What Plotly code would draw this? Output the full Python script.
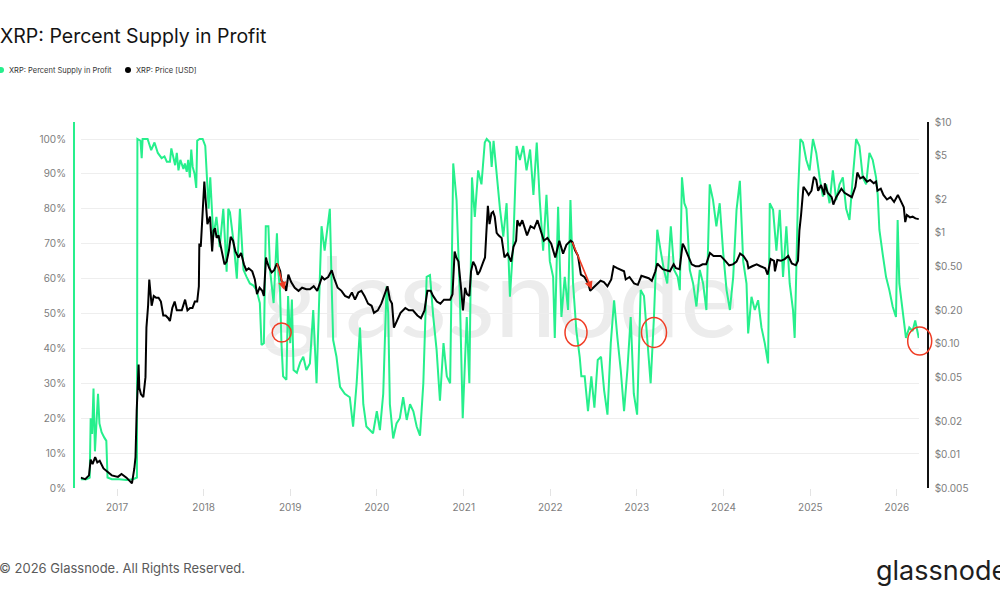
import plotly.graph_objects as go

# ---------------- data ----------------
supply_in_profit = [
    ("2016-08-01", 2.5), ("2016-08-25", 2.5), ("2016-09-08", 3.0), ("2016-09-12", 20.0), ("2016-09-18", 15.5),
    ("2016-09-24", 28.5), ("2016-09-30", 10.5), ("2016-10-05", 18.0), ("2016-10-13", 27.0), ("2016-10-19", 18.5),
    ("2016-10-28", 16.0), ("2016-11-08", 14.5), ("2016-11-17", 13.5), ("2016-11-22", 3.0), ("2016-12-10", 2.5),
    ("2017-01-10", 2.5), ("2017-02-10", 2.3), ("2017-03-10", 2.5), ("2017-03-26", 3.0), ("2017-03-28", 100),
    ("2017-04-10", 99.5), ("2017-04-15", 94.5), ("2017-04-19", 100), ("2017-05-10", 100), ("2017-05-25", 96.8),
    ("2017-06-08", 99), ("2017-06-22", 96), ("2017-07-08", 94.5), ("2017-07-20", 95), ("2017-07-30", 93.5),
    ("2017-08-12", 93.5), ("2017-08-18", 97.3), ("2017-08-25", 95), ("2017-09-03", 92.5), ("2017-09-10", 96),
    ("2017-09-17", 91), ("2017-09-25", 94), ("2017-10-08", 91.4), ("2017-10-14", 93), ("2017-10-22", 90.6),
    ("2017-10-28", 94), ("2017-11-04", 89), ("2017-11-10", 97), ("2017-11-16", 92), ("2017-11-24", 90),
    ("2017-12-01", 86), ("2017-12-05", 99.5), ("2017-12-15", 100), ("2017-12-28", 100), ("2018-01-08", 98),
    ("2018-01-15", 89), ("2018-01-22", 80), ("2018-01-29", 89), ("2018-02-11", 72), ("2018-02-24", 77.7),
    ("2018-03-10", 69), ("2018-03-25", 80), ("2018-04-08", 62), ("2018-04-15", 80), ("2018-04-22", 79),
    ("2018-05-08", 70), ("2018-05-21", 60), ("2018-06-03", 80), ("2018-06-18", 62.5), ("2018-07-01", 60.5),
    ("2018-07-15", 58.6), ("2018-07-30", 58), ("2018-08-12", 56.7), ("2018-08-26", 53), ("2018-09-02", 41),
    ("2018-09-12", 41.5), ("2018-09-20", 75), ("2018-10-01", 75), ("2018-10-08", 62.5), ("2018-10-23", 53),
    ("2018-11-06", 73), ("2018-11-12", 62), ("2018-11-19", 56.7), ("2018-11-25", 41.5), ("2018-12-02", 32),
    ("2018-12-16", 31), ("2018-12-23", 55), ("2019-01-01", 41.5), ("2019-01-08", 54), ("2019-01-15", 33.8),
    ("2019-01-29", 33), ("2019-02-12", 36), ("2019-02-25", 37.6), ("2019-03-10", 33.8), ("2019-03-25", 35.7),
    ("2019-04-08", 51), ("2019-04-22", 30), ("2019-05-06", 60.5), ("2019-05-13", 75), ("2019-05-26", 68),
    ("2019-06-05", 74), ("2019-06-17", 80), ("2019-06-24", 60), ("2019-07-01", 42.4), ("2019-07-15", 37.6),
    ("2019-07-30", 29), ("2019-08-19", 27), ("2019-09-09", 26), ("2019-09-23", 17.6), ("2019-10-08", 30),
    ("2019-10-22", 46), ("2019-11-05", 24), ("2019-11-18", 17.6), ("2019-12-02", 16.6), ("2019-12-16", 15.7),
    ("2020-01-01", 22), ("2020-01-14", 16.6), ("2020-01-28", 27), ("2020-02-11", 57.7), ("2020-02-18", 50),
    ("2020-02-25", 24), ("2020-03-10", 14.2), ("2020-03-24", 18.5), ("2020-04-07", 20), ("2020-04-21", 26),
    ("2020-05-06", 19.5), ("2020-05-20", 24), ("2020-06-03", 22), ("2020-06-17", 17.6), ("2020-07-01", 15),
    ("2020-07-15", 30), ("2020-07-29", 60.5), ("2020-08-12", 61), ("2020-08-26", 49), ("2020-09-09", 39.5),
    ("2020-09-23", 25), ("2020-10-08", 41.5), ("2020-10-22", 32), ("2020-11-05", 30), ("2020-11-18", 93),
    ("2020-12-02", 82.5), ("2020-12-16", 54.8), ("2020-12-28", 20), ("2021-01-14", 49), ("2021-01-25", 30),
    ("2021-02-05", 89), ("2021-02-17", 77.7), ("2021-03-03", 91), ("2021-03-17", 87), ("2021-03-31", 99),
    ("2021-04-08", 100), ("2021-04-22", 99), ("2021-04-29", 92), ("2021-05-07", 99.5), ("2021-05-20", 89),
    ("2021-06-03", 80), ("2021-06-17", 72), ("2021-07-01", 81.6), ("2021-07-15", 54.8), ("2021-07-29", 70),
    ("2021-08-12", 98), ("2021-08-26", 94), ("2021-09-09", 98), ("2021-09-23", 91), ("2021-10-08", 97),
    ("2021-10-22", 84), ("2021-11-05", 99), ("2021-11-18", 82), ("2021-12-02", 68), ("2021-12-16", 84),
    ("2021-12-30", 65), ("2022-01-13", 60.5), ("2022-01-20", 43), ("2022-02-03", 80.6), ("2022-02-17", 49),
    ("2022-03-03", 60.5), ("2022-03-17", 51), ("2022-03-27", 82.5), ("2022-04-07", 58.6), ("2022-04-21", 45),
    ("2022-05-05", 37.6), ("2022-05-12", 32), ("2022-05-26", 32), ("2022-06-09", 22), ("2022-06-23", 32),
    ("2022-07-06", 23), ("2022-07-20", 36.7), ("2022-08-03", 37.6), ("2022-08-16", 28), ("2022-08-30", 21),
    ("2022-09-13", 41.5), ("2022-09-27", 53.8), ("2022-10-11", 43), ("2022-10-25", 33.8), ("2022-11-08", 22),
    ("2022-11-22", 33.8), ("2022-12-06", 49), ("2022-12-19", 27), ("2023-01-02", 21), ("2023-01-17", 56.7),
    ("2023-01-31", 55), ("2023-02-14", 41.5), ("2023-02-28", 30), ("2023-03-14", 49), ("2023-03-28", 74),
    ("2023-04-11", 68), ("2023-04-25", 62.5), ("2023-05-09", 58.6), ("2023-05-24", 75), ("2023-06-07", 62.5),
    ("2023-06-22", 60.5), ("2023-07-01", 56.7), ("2023-07-10", 89), ("2023-07-20", 81.6), ("2023-07-29", 80),
    ("2023-08-12", 62.5), ("2023-08-26", 58.6), ("2023-09-09", 52), ("2023-09-23", 62.5), ("2023-10-07", 58.6),
    ("2023-10-21", 51), ("2023-11-04", 87), ("2023-11-18", 82.5), ("2023-12-02", 75), ("2023-12-16", 81.6),
    ("2023-12-30", 68), ("2024-01-14", 56.7), ("2024-01-28", 51), ("2024-02-11", 60.5), ("2024-02-25", 79.7),
    ("2024-03-10", 88), ("2024-03-24", 65), ("2024-04-07", 58.6), ("2024-04-14", 44.3), ("2024-04-28", 54.8),
    ("2024-05-12", 51), ("2024-05-26", 53.8), ("2024-06-09", 46), ("2024-06-23", 41.5), ("2024-07-07", 35.7),
    ("2024-07-14", 81.6), ("2024-07-28", 79.7), ("2024-08-11", 68), ("2024-08-25", 79.7), ("2024-09-08", 60.5),
    ("2024-09-22", 75), ("2024-10-06", 58.6), ("2024-10-20", 51), ("2024-10-27", 43), ("2024-11-03", 62.5),
    ("2024-11-10", 84), ("2024-11-20", 100), ("2024-12-01", 99), ("2024-12-15", 94), ("2024-12-29", 91),
    ("2025-01-12", 100), ("2025-01-26", 96), ("2025-02-09", 89), ("2025-02-23", 83.5), ("2025-03-09", 87),
    ("2025-03-23", 81.6), ("2025-04-06", 91), ("2025-04-20", 82.5), ("2025-05-04", 87), ("2025-05-18", 89),
    ("2025-06-01", 80), ("2025-06-15", 76.8), ("2025-06-29", 89), ("2025-07-13", 100), ("2025-07-27", 98),
    ("2025-08-10", 89), ("2025-08-24", 87), ("2025-09-07", 96), ("2025-09-21", 94), ("2025-10-05", 89),
    ("2025-10-12", 84), ("2025-10-19", 74), ("2025-11-02", 67), ("2025-11-16", 60.5), ("2025-11-30", 56.7),
    ("2025-12-14", 52), ("2025-12-28", 49), ("2026-01-04", 76.8), ("2026-01-11", 58.6), ("2026-01-25", 51),
    ("2026-02-08", 43), ("2026-02-22", 46), ("2026-03-08", 45), ("2026-03-19", 48), ("2026-04-03", 43),
]

price_usd = [
    ("2016-08-01", 0.0062), ("2016-08-20", 0.0060), ("2016-09-05", 0.0065), ("2016-09-12", 0.0090), ("2016-09-20", 0.0082),
    ("2016-10-01", 0.0095), ("2016-10-10", 0.0085), ("2016-10-20", 0.0088), ("2016-11-05", 0.0075), ("2016-11-20", 0.0070),
    ("2016-12-10", 0.0065), ("2017-01-05", 0.0063), ("2017-01-20", 0.0067), ("2017-02-10", 0.0062), ("2017-02-25", 0.0058),
    ("2017-03-05", 0.0055), ("2017-03-15", 0.0075), ("2017-03-20", 0.0095), ("2017-03-25", 0.025), ("2017-04-02", 0.065),
    ("2017-04-05", 0.040), ("2017-04-12", 0.035), ("2017-04-22", 0.033), ("2017-05-01", 0.050), ("2017-05-05", 0.14),
    ("2017-05-12", 0.22), ("2017-05-17", 0.38), ("2017-05-22", 0.30), ("2017-05-27", 0.22), ("2017-06-05", 0.27),
    ("2017-06-15", 0.26), ("2017-06-25", 0.26), ("2017-07-05", 0.24), ("2017-07-15", 0.18), ("2017-07-25", 0.18),
    ("2017-08-05", 0.17), ("2017-08-12", 0.16), ("2017-08-22", 0.21), ("2017-09-01", 0.24), ("2017-09-10", 0.20),
    ("2017-09-20", 0.20), ("2017-10-01", 0.20), ("2017-10-15", 0.25), ("2017-10-25", 0.20), ("2017-11-05", 0.21),
    ("2017-11-15", 0.21), ("2017-11-25", 0.24), ("2017-12-05", 0.24), ("2017-12-12", 0.33), ("2017-12-14", 0.80),
    ("2017-12-20", 0.75), ("2017-12-28", 1.40), ("2018-01-04", 2.9), ("2018-01-08", 2.2), ("2018-01-12", 1.8),
    ("2018-01-17", 1.2), ("2018-01-28", 1.4), ("2018-02-06", 0.68), ("2018-02-12", 1.05), ("2018-02-18", 1.1),
    ("2018-02-25", 0.90), ("2018-03-05", 0.95), ("2018-03-12", 0.80), ("2018-03-20", 0.68), ("2018-03-30", 0.52),
    ("2018-04-08", 0.55), ("2018-04-18", 0.70), ("2018-04-25", 0.92), ("2018-05-05", 0.85), ("2018-05-15", 0.68),
    ("2018-05-28", 0.60), ("2018-06-08", 0.66), ("2018-06-20", 0.52), ("2018-06-30", 0.46), ("2018-07-10", 0.48),
    ("2018-07-25", 0.45), ("2018-08-05", 0.38), ("2018-08-14", 0.28), ("2018-08-25", 0.32), ("2018-09-05", 0.30),
    ("2018-09-12", 0.27), ("2018-09-21", 0.60), ("2018-09-25", 0.55), ("2018-10-05", 0.48), ("2018-10-15", 0.44),
    ("2018-10-25", 0.46), ("2018-11-06", 0.53), ("2018-11-12", 0.50), ("2018-11-20", 0.45), ("2018-11-25", 0.37),
    ("2018-12-05", 0.35), ("2018-12-15", 0.30), ("2018-12-24", 0.42), ("2019-01-05", 0.36), ("2019-01-20", 0.32),
    ("2019-02-05", 0.30), ("2019-02-20", 0.32), ("2019-03-10", 0.31), ("2019-03-25", 0.31), ("2019-04-10", 0.33),
    ("2019-04-25", 0.30), ("2019-05-15", 0.40), ("2019-05-25", 0.38), ("2019-06-10", 0.40), ("2019-06-25", 0.46),
    ("2019-07-05", 0.39), ("2019-07-20", 0.32), ("2019-08-05", 0.30), ("2019-08-20", 0.27), ("2019-09-05", 0.26),
    ("2019-09-18", 0.29), ("2019-10-01", 0.25), ("2019-10-15", 0.29), ("2019-10-28", 0.30), ("2019-11-10", 0.27),
    ("2019-11-25", 0.23), ("2019-12-10", 0.22), ("2019-12-20", 0.19), ("2020-01-05", 0.20), ("2020-01-20", 0.23),
    ("2020-02-05", 0.28), ("2020-02-15", 0.33), ("2020-02-25", 0.25), ("2020-03-05", 0.23), ("2020-03-13", 0.14),
    ("2020-03-25", 0.16), ("2020-04-10", 0.19), ("2020-04-30", 0.21), ("2020-05-15", 0.20), ("2020-06-01", 0.20),
    ("2020-06-20", 0.18), ("2020-07-05", 0.17), ("2020-07-20", 0.20), ("2020-08-01", 0.30), ("2020-08-15", 0.30),
    ("2020-08-25", 0.27), ("2020-09-10", 0.24), ("2020-09-25", 0.23), ("2020-10-10", 0.25), ("2020-10-25", 0.25),
    ("2020-11-05", 0.25), ("2020-11-15", 0.28), ("2020-11-24", 0.68), ("2020-12-01", 0.60), ("2020-12-10", 0.55),
    ("2020-12-22", 0.30), ("2020-12-29", 0.20), ("2021-01-07", 0.32), ("2021-01-15", 0.28), ("2021-01-25", 0.27),
    ("2021-02-01", 0.45), ("2021-02-10", 0.55), ("2021-02-20", 0.50), ("2021-03-01", 0.42), ("2021-03-10", 0.45),
    ("2021-03-25", 0.55), ("2021-04-01", 0.60), ("2021-04-06", 0.95), ("2021-04-13", 1.75), ("2021-04-20", 1.20),
    ("2021-04-28", 1.50), ("2021-05-05", 1.55), ("2021-05-12", 1.40), ("2021-05-20", 1.00), ("2021-05-28", 0.95),
    ("2021-06-10", 0.90), ("2021-06-22", 0.60), ("2021-07-05", 0.65), ("2021-07-20", 0.55), ("2021-07-30", 0.75),
    ("2021-08-10", 0.85), ("2021-08-15", 1.30), ("2021-08-25", 1.15), ("2021-09-05", 1.30), ("2021-09-15", 1.10),
    ("2021-09-25", 0.95), ("2021-10-10", 1.15), ("2021-10-25", 1.10), ("2021-11-08", 1.30), ("2021-11-20", 1.05),
    ("2021-12-05", 0.85), ("2021-12-20", 0.90), ("2022-01-05", 0.80), ("2022-01-22", 0.60), ("2022-02-08", 0.85),
    ("2022-02-24", 0.65), ("2022-03-10", 0.78), ("2022-03-28", 0.85), ("2022-04-05", 0.82), ("2022-04-15", 0.70),
    ("2022-04-28", 0.62), ("2022-05-10", 0.42), ("2022-05-25", 0.40), ("2022-06-10", 0.35), ("2022-06-18", 0.30),
    ("2022-07-01", 0.32), ("2022-07-15", 0.34), ("2022-08-01", 0.37), ("2022-08-15", 0.36), ("2022-08-30", 0.33),
    ("2022-09-15", 0.38), ("2022-09-25", 0.50), ("2022-10-10", 0.48), ("2022-10-25", 0.46), ("2022-11-08", 0.45),
    ("2022-11-15", 0.38), ("2022-12-01", 0.40), ("2022-12-20", 0.35), ("2023-01-05", 0.34), ("2023-01-20", 0.41),
    ("2023-02-05", 0.40), ("2023-02-20", 0.39), ("2023-03-05", 0.37), ("2023-03-20", 0.45), ("2023-03-28", 0.53),
    ("2023-04-10", 0.50), ("2023-04-20", 0.47), ("2023-05-05", 0.46), ("2023-05-20", 0.45), ("2023-06-05", 0.52),
    ("2023-06-15", 0.48), ("2023-06-30", 0.47), ("2023-07-13", 0.80), ("2023-07-20", 0.75), ("2023-08-05", 0.63),
    ("2023-08-20", 0.52), ("2023-09-05", 0.50), ("2023-09-20", 0.50), ("2023-10-05", 0.52), ("2023-10-20", 0.52),
    ("2023-11-05", 0.66), ("2023-11-20", 0.62), ("2023-12-05", 0.62), ("2023-12-20", 0.62), ("2024-01-05", 0.57),
    ("2024-01-25", 0.51), ("2024-02-10", 0.52), ("2024-02-25", 0.55), ("2024-03-11", 0.65), ("2024-03-25", 0.62),
    ("2024-04-10", 0.55), ("2024-04-15", 0.48), ("2024-05-01", 0.50), ("2024-05-20", 0.52), ("2024-06-05", 0.50),
    ("2024-06-25", 0.48), ("2024-07-05", 0.42), ("2024-07-18", 0.58), ("2024-08-01", 0.56), ("2024-08-05", 0.45),
    ("2024-08-15", 0.57), ("2024-08-30", 0.56), ("2024-09-15", 0.58), ("2024-09-30", 0.62), ("2024-10-15", 0.53),
    ("2024-11-01", 0.51), ("2024-11-10", 0.56), ("2024-11-16", 1.05), ("2024-11-23", 1.45), ("2024-12-03", 2.6),
    ("2024-12-15", 2.4), ("2024-12-25", 2.2), ("2025-01-06", 2.4), ("2025-01-16", 3.2), ("2025-01-26", 3.0),
    ("2025-02-03", 2.4), ("2025-02-15", 2.7), ("2025-03-01", 2.2), ("2025-03-03", 2.8), ("2025-03-15", 2.3),
    ("2025-04-01", 2.1), ("2025-04-08", 1.8), ("2025-04-20", 2.1), ("2025-05-12", 2.5), ("2025-05-25", 2.3),
    ("2025-06-10", 2.2), ("2025-06-25", 2.1), ("2025-07-10", 2.6), ("2025-07-18", 3.5), ("2025-07-30", 3.1),
    ("2025-08-12", 3.2), ("2025-08-28", 2.9), ("2025-09-10", 3.0), ("2025-09-25", 2.8), ("2025-10-05", 2.9),
    ("2025-10-11", 2.4), ("2025-10-25", 2.5), ("2025-11-05", 2.2), ("2025-11-20", 2.0), ("2025-12-05", 2.1),
    ("2025-12-20", 1.9), ("2026-01-05", 2.2), ("2026-01-15", 2.0), ("2026-01-30", 1.7), ("2026-02-05", 1.25),
    ("2026-02-12", 1.45), ("2026-02-25", 1.38), ("2026-03-08", 1.40), ("2026-03-20", 1.35), ("2026-04-03", 1.33),
]

pct_ticks = [0, 10, 20, 30, 40, 50, 60, 70, 80, 90, 100]
pct_labels = ["0%", "10%", "20%", "30%", "40%", "50%", "60%", "70%", "80%", "90%", "100%"]
price_ticks = [0.005, 0.01, 0.02, 0.05, 0.1, 0.2, 0.5, 1, 2, 5, 10]
price_labels = ["$0.005", "$0.01", "$0.02", "$0.05", "$0.10", "$0.20", "$0.50", "$1", "$2", "$5", "$10"]
x_range = ["2016-08-01", "2026-04-04"]

# ---------------- style ----------------
W, H = 1000, 600
GREEN = "#26ef8c"
FONT = "Inter"
TICK_COLOR = "#7d7d7d"
RED = "#f03c24"


def px(x):
    return x / W


def py(y):
    return 1 - y / H


x_dom = [px(80.7), px(919)]
y_dom = [py(488), py(122)]

fig = go.Figure()
fig.add_trace(go.Scatter(
    x=[d for d, _ in supply_in_profit], y=[v for _, v in supply_in_profit],
    mode="lines", line=dict(color=GREEN, width=2), name="XRP: Percent Supply in Profit",
    yaxis="y", showlegend=False,
))
fig.add_trace(go.Scatter(
    x=[d for d, _ in price_usd], y=[v for _, v in price_usd],
    mode="lines", line=dict(color="#000000", width=2), name="XRP: Price [USD]",
    yaxis="y2", showlegend=False,
))

fig.update_layout(
    width=W, height=H,
    margin=dict(l=0, r=0, t=0, b=0, pad=0, autoexpand=False),
    paper_bgcolor="white", plot_bgcolor="rgba(0,0,0,0)",
    font=dict(family=FONT, color=TICK_COLOR, size=10),
    xaxis=dict(
        domain=x_dom, range=x_range, type="date", anchor="y", automargin=False,
        showgrid=False, zeroline=False, showline=False,
        tick0="2017-01-01", dtick="M12", tickformat="%Y",
        ticks="outside", ticklen=7, tickcolor="#e4e4e4", tickwidth=1,
        ticklabelstandoff=3,
        tickfont=dict(size=10, color=TICK_COLOR, family=FONT),
    ),
    yaxis=dict(
        domain=y_dom, range=[0, 104.87], anchor="free", position=px(74), side="left", automargin=False,
        tickvals=pct_ticks, ticktext=pct_labels,
        showgrid=True, gridcolor="#eeeeee", gridwidth=1, zeroline=False,
        showline=True, linecolor=GREEN, linewidth=2,
        ticks="outside", ticklen=5, tickcolor="rgba(0,0,0,0)",
        tickfont=dict(size=10, color=TICK_COLOR, family=FONT),
    ),
    yaxis2=dict(
        domain=y_dom, type="log", range=[-2.30103, 1.0], overlaying="y", anchor="free",
        position=px(927.7), side="right", automargin=False,
        tickvals=price_ticks, ticktext=price_labels,
        showgrid=False, zeroline=False,
        showline=True, linecolor="#111111", linewidth=2,
        ticks="outside", ticklen=4, tickcolor="rgba(0,0,0,0)",
        tickfont=dict(size=10, color=TICK_COLOR, family=FONT),
    ),
)

shapes = []
# watermark (drawn below traces)
shapes.append(dict(
    type="rect", xref="paper", yref="paper", layer="below",
    x0=px(260), x1=px(740), y0=py(360), y1=py(225),
    line=dict(width=0), fillcolor="rgba(0,0,0,0)",
    label=dict(text="glassnode", textposition="middle center",
               font=dict(family="Lato", size=110, color="#ececec")),
))
# legend dots
shapes.append(dict(type="circle", xref="paper", yref="paper", x0=px(-2), x1=px(4), y0=py(73), y1=py(67),
                   fillcolor=GREEN, line=dict(width=0)))
shapes.append(dict(type="circle", xref="paper", yref="paper", x0=px(125), x1=px(131), y0=py(73), y1=py(67),
                   fillcolor="#000000", line=dict(width=0)))
# red circles
for (cx, cy, w, h) in [(281.7, 332.5, 19, 19), (576, 332.5, 22, 27), (654, 332.5, 25, 30), (919.7, 341, 24, 28)]:
    shapes.append(dict(type="circle", xref="paper", yref="paper",
                       x0=px(cx - w / 2), x1=px(cx + w / 2), y0=py(cy + h / 2), y1=py(cy - h / 2),
                       line=dict(color=RED, width=1.5), fillcolor="rgba(0,0,0,0)"))
fig.update_layout(shapes=shapes)

annotations = [
    dict(text="XRP: Percent Supply in Profit", x=px(-2), y=py(36), xref="paper", yref="paper",
         xanchor="left", yanchor="middle", showarrow=False,
         font=dict(family=FONT, size=19.5, color="#141414")),
    dict(text="XRP: Percent Supply in Profit", x=px(7), y=py(70), xref="paper", yref="paper",
         xanchor="left", yanchor="middle", showarrow=False,
         font=dict(family=FONT, size=7.5, color="#333333")),
    dict(text="XRP: Price [USD]", x=px(134), y=py(70), xref="paper", yref="paper",
         xanchor="left", yanchor="middle", showarrow=False,
         font=dict(family=FONT, size=7.5, color="#333333")),
    dict(text="© 2026 Glassnode. All Rights Reserved.", x=px(-3), y=py(568), xref="paper", yref="paper",
         xanchor="left", yanchor="middle", showarrow=False,
         font=dict(family=FONT, size=13, color="#5a5a5a")),
    dict(text="glassnode", x=px(874), y=py(570), xref="paper", yref="paper",
         xanchor="left", yanchor="middle", showarrow=False,
         font=dict(family=FONT, size=27, color="#1e1e1e")),
]
# red arrows (head position in paper, tail offset in pixels)
for (hx, hy, tx, ty) in [(284.3, 290, 276.7, 261.7), (591.7, 289.3, 571.7, 240.7)]:
    annotations.append(dict(
        text="", x=px(hx), y=py(hy), xref="paper", yref="paper",
        ax=tx - hx, ay=ty - hy, axref="pixel", ayref="pixel",
        showarrow=True, arrowhead=2, arrowsize=1, arrowwidth=1.6, arrowcolor=RED,
    ))
fig.update_layout(annotations=annotations)

fig.write_html("out.html", config={"displayModeBar": False},
               post_script="document.body.style.margin='0';")
